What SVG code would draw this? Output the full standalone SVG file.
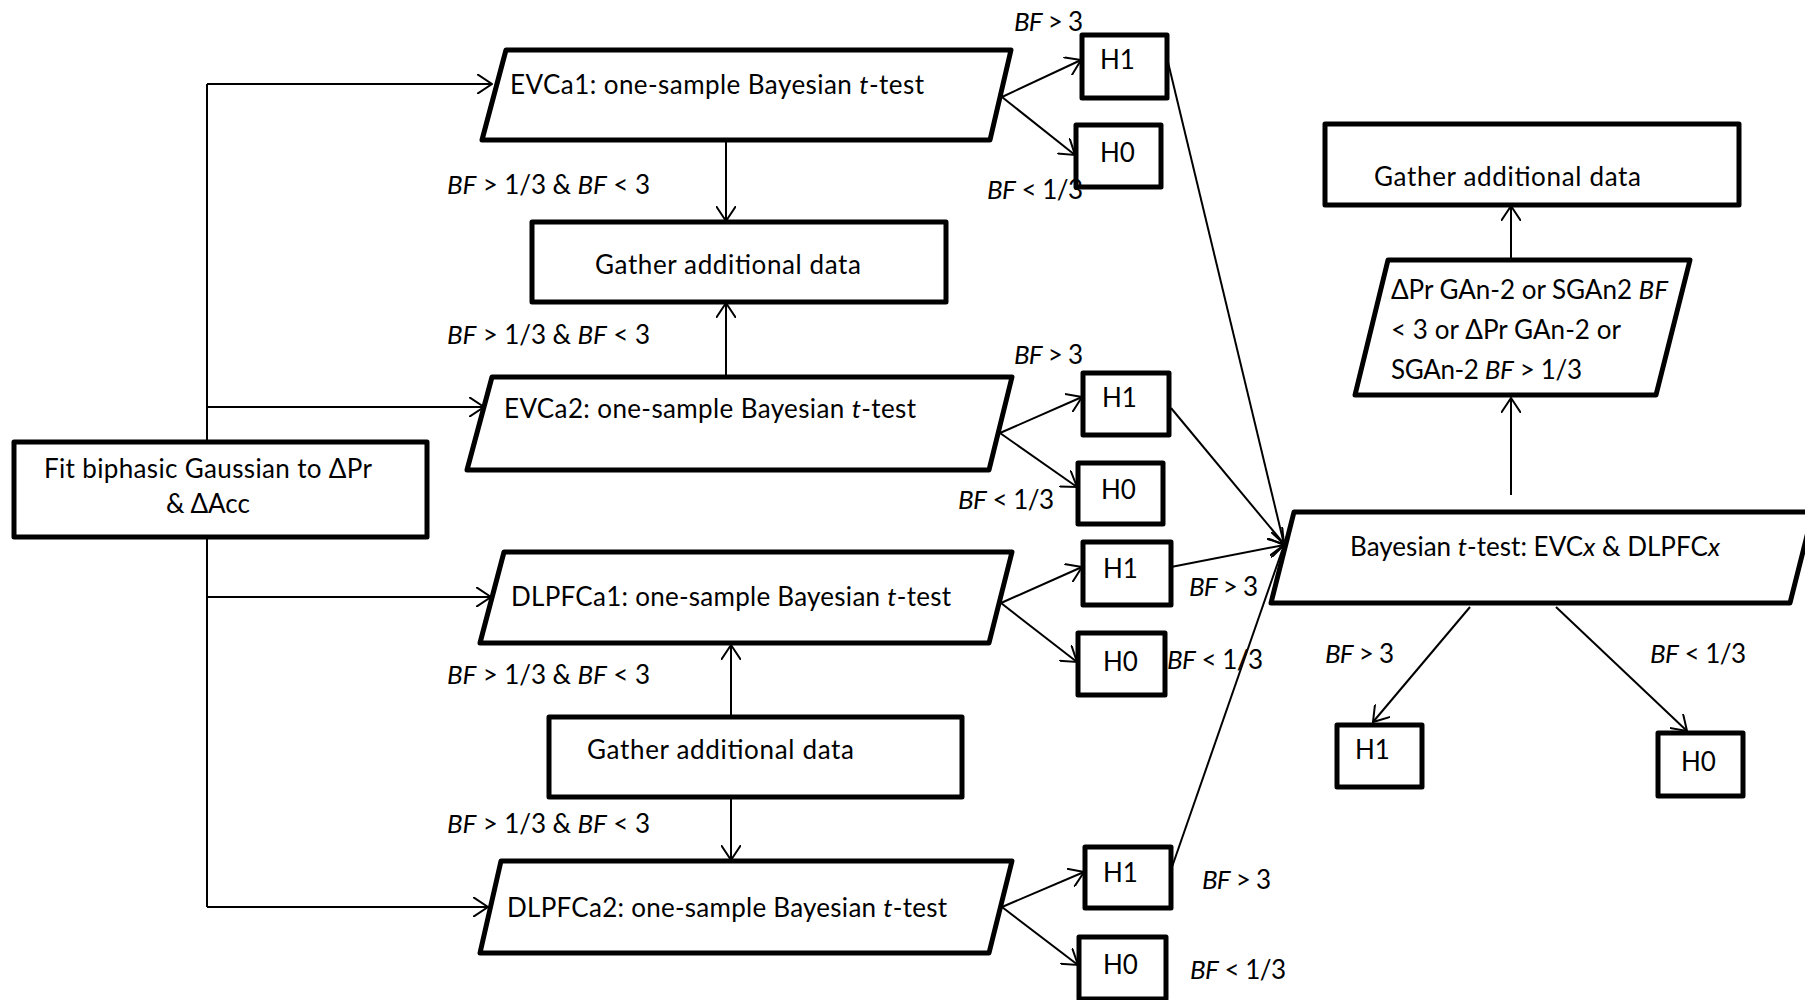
<svg xmlns="http://www.w3.org/2000/svg" width="1805" height="1000" viewBox="0 0 1805 1000">
<style>
.node{fill:#fff;stroke:#000;stroke-width:5;stroke-linejoin:round}
.c{fill:none;stroke:#000;stroke-width:2}
.a{marker-end:url(#arr)}
text{font-family:Lato,"Liberation Sans",sans-serif;font-size:26px;fill:#000}
.i{font-style:italic}
</style>
<defs>
<marker id="arr" markerUnits="userSpaceOnUse" viewBox="0 0 16 20" refX="15" refY="10" markerWidth="16" markerHeight="20" orient="auto">
<path d="M0,0 L15,10 L0,20" fill="none" stroke="#000" stroke-width="2"/>
</marker>
</defs>
<rect width="1805" height="1000" fill="#fff"/>
<g id="connectors">
<path class="c" d="M207,84 V907"/>
<path class="c a" d="M207,84 H492"/>
<path class="c a" d="M207,407 H484"/>
<path class="c a" d="M207,597 H491"/>
<path class="c a" d="M207,907 H488"/>
<path class="c a" d="M726,140 V221"/>
<path class="c a" d="M726,380 V303"/>
<path class="c a" d="M731,717 V645"/>
<path class="c a" d="M731,797 V860"/>
<path class="c a" d="M1002,97 L1081,60"/>
<path class="c a" d="M1002,97 L1075,155"/>
<path class="c a" d="M1000,433 L1082,397"/>
<path class="c a" d="M1000,433 L1077,487"/>
<path class="c a" d="M1001,603 L1082,567"/>
<path class="c a" d="M1001,603 L1077,662"/>
<path class="c a" d="M1002,907 L1084,872"/>
<path class="c a" d="M1002,907 L1078,965"/>
<path class="c a" d="M1167,58 L1284,544"/>
<path class="c a" d="M1171,408 L1284,544"/>
<path class="c a" d="M1171,567 L1284,545"/>
<path class="c a" d="M1172,867 L1284,545"/>
<path class="c a" d="M1511,495 V398"/>
<path class="c a" d="M1511,260 V206"/>
<path class="c a" d="M1470,607 L1373,722"/>
<path class="c a" d="M1556,607 L1687,731"/>
</g>
<g id="fit">
<rect class="node" x="14" y="442" width="413" height="95"/>
<text x="208" y="478" text-anchor="middle" textLength="328">Fit biphasic Gaussian to ΔPr</text>
<text x="208" y="513" text-anchor="middle" textLength="84">&amp; ΔAcc</text>
</g>
<g id="evca1">
<polygon class="node" points="506,50 1011,50 990,140 482,140"/>
<text x="510" y="94" textLength="414">EVCa1: one-sample Bayesian <tspan class="i">t</tspan>-test</text>
</g>
<g id="gather1">
<rect class="node" x="532" y="222" width="414" height="80"/>
<text x="595" y="274" textLength="266">Gather additional data</text>
</g>
<g id="evca2">
<polygon class="node" points="492,377 1012,377 989,470 467,470"/>
<text x="504" y="418" textLength="412">EVCa2: one-sample Bayesian <tspan class="i">t</tspan>-test</text>
</g>
<g id="dlpfca1">
<polygon class="node" points="504,552 1012,552 989,643 480,643"/>
<text x="511" y="606" textLength="440">DLPFCa1: one-sample Bayesian <tspan class="i">t</tspan>-test</text>
</g>
<g id="gather2">
<rect class="node" x="549" y="717" width="413" height="80"/>
<text x="587" y="759" textLength="267">Gather additional data</text>
</g>
<g id="dlpfca2">
<polygon class="node" points="501,861 1012,861 989,953 480,953"/>
<text x="507" y="917" textLength="440">DLPFCa2: one-sample Bayesian <tspan class="i">t</tspan>-test</text>
</g>
<g id="h1a"><rect class="node" x="1082" y="35" width="85" height="63"/><text x="1100" y="69">H1</text></g>
<g id="h0a"><rect class="node" x="1076" y="125" width="85" height="62"/><text x="1100" y="162">H0</text></g>
<g id="h1b"><rect class="node" x="1083" y="373" width="86" height="62"/><text x="1102" y="407">H1</text></g>
<g id="h0b"><rect class="node" x="1078" y="463" width="85" height="61"/><text x="1101" y="499">H0</text></g>
<g id="h1c"><rect class="node" x="1083" y="542" width="88" height="63"/><text x="1103" y="578">H1</text></g>
<g id="h0c"><rect class="node" x="1078" y="633" width="87" height="62"/><text x="1103" y="671">H0</text></g>
<g id="h1d"><rect class="node" x="1085" y="847" width="86" height="61"/><text x="1103" y="882">H1</text></g>
<g id="h0d"><rect class="node" x="1079" y="937" width="87" height="62"/><text x="1103" y="974">H0</text></g>
<g id="bayes">
<polygon class="node" points="1294,512 1813,512 1790,603 1271,603"/>
<text x="1350" y="556" textLength="370">Bayesian <tspan class="i">t</tspan>-test: EVC<tspan class="i">x</tspan> &amp; DLPFC<tspan class="i">x</tspan></text>
</g>
<g id="cond">
<polygon class="node" points="1388,260 1690,260 1656,395 1355,395"/>
<text x="1391" y="299" textLength="277">ΔPr GAn-2 or SGAn2 <tspan class="i">BF</tspan></text>
<text x="1391" y="339" textLength="230">&lt; 3 or ΔPr GAn-2 or</text>
<text x="1391" y="379" textLength="191">SGAn-2 <tspan class="i">BF</tspan> &gt; 1/3</text>
</g>
<g id="gather3">
<rect class="node" x="1325" y="124" width="414" height="81"/>
<text x="1374" y="186" textLength="267">Gather additional data</text>
</g>
<g id="h1e"><rect class="node" x="1337" y="725" width="85" height="62"/><text x="1355" y="759">H1</text></g>
<g id="h0e"><rect class="node" x="1658" y="733" width="85" height="63"/><text x="1681" y="771">H0</text></g>
<g id="labels">
<text x="447" y="194" textLength="203"><tspan class="i">BF</tspan> &gt; 1/3 &amp; <tspan class="i">BF</tspan> &lt; 3</text>
<text x="447" y="344" textLength="203"><tspan class="i">BF</tspan> &gt; 1/3 &amp; <tspan class="i">BF</tspan> &lt; 3</text>
<text x="447" y="684" textLength="203"><tspan class="i">BF</tspan> &gt; 1/3 &amp; <tspan class="i">BF</tspan> &lt; 3</text>
<text x="447" y="833" textLength="203"><tspan class="i">BF</tspan> &gt; 1/3 &amp; <tspan class="i">BF</tspan> &lt; 3</text>
<text x="1014" y="31" textLength="69"><tspan class="i">BF</tspan> &gt; 3</text>
<text x="987" y="199" textLength="96"><tspan class="i">BF</tspan> &lt; 1/3</text>
<text x="1014" y="364" textLength="69"><tspan class="i">BF</tspan> &gt; 3</text>
<text x="958" y="509" textLength="96"><tspan class="i">BF</tspan> &lt; 1/3</text>
<text x="1189" y="596" textLength="69"><tspan class="i">BF</tspan> &gt; 3</text>
<text x="1167" y="669" textLength="96"><tspan class="i">BF</tspan> &lt; 1/3</text>
<text x="1202" y="889" textLength="69"><tspan class="i">BF</tspan> &gt; 3</text>
<text x="1190" y="979" textLength="96"><tspan class="i">BF</tspan> &lt; 1/3</text>
<text x="1325" y="663" textLength="69"><tspan class="i">BF</tspan> &gt; 3</text>
<text x="1650" y="663" textLength="96"><tspan class="i">BF</tspan> &lt; 1/3</text>
</g>
</svg>
